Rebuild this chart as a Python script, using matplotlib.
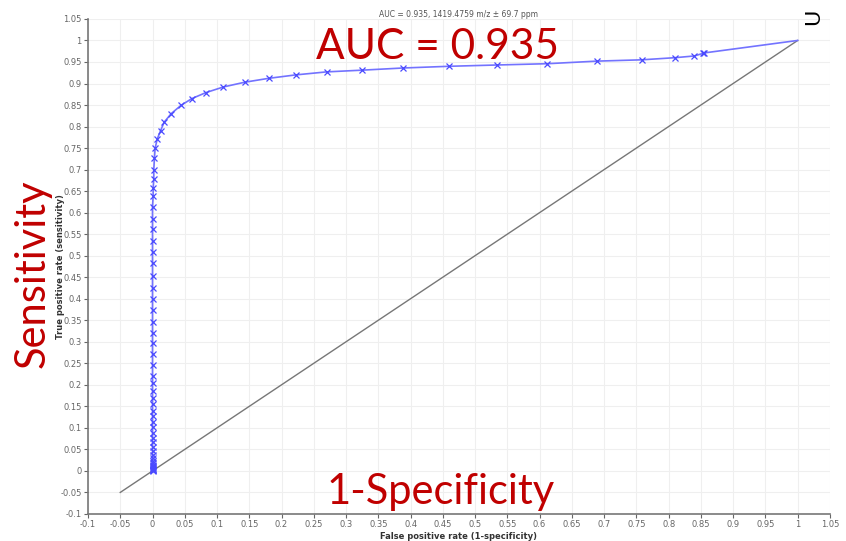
import matplotlib
matplotlib.use("Agg")
import matplotlib.pyplot as plt
import numpy as np
from matplotlib.ticker import MultipleLocator, FuncFormatter

# ROC points (false positive rate, true positive rate)
fpr = [0, 0, 0, 0, 0, 0, 0, 0, 0, 0,
       0, 0, 0, 0, 0, 0, 0, 0, 0, 0,
       0, 0, 0, 0, 0, 0, 0, 0, 0, 0,
       0, 0, 0, 0, 0, 0, 0, 0, 0, 0,
       0, 0, 0.001, 0.001, 0.002, 0.002, 0.003, 0.004,
       0.0073, 0.0124, 0.018, 0.029, 0.044, 0.061, 0.083, 0.11, 0.143, 0.18,
       0.222, 0.27, 0.325, 0.388, 0.46, 0.534, 0.612, 0.689, 0.758, 0.81,
       0.84, 0.853, 0.855, 1.0]
tpr = [0, 0.001, 0.002, 0.003, 0.004, 0.006, 0.008, 0.011, 0.014, 0.018,
       0.022, 0.029, 0.037, 0.046, 0.056, 0.066, 0.077, 0.089, 0.101, 0.114,
       0.127, 0.14, 0.155, 0.17, 0.185, 0.204, 0.221, 0.246, 0.271, 0.297,
       0.321, 0.346, 0.374, 0.400, 0.426, 0.453, 0.484, 0.508, 0.534, 0.561,
       0.586, 0.614, 0.638, 0.657, 0.677, 0.70, 0.726, 0.749,
       0.771, 0.790, 0.81, 0.83, 0.849, 0.865, 0.879, 0.892, 0.903, 0.912,
       0.920, 0.927, 0.931, 0.936, 0.940, 0.943, 0.946, 0.952, 0.955, 0.96,
       0.964, 0.970, 0.971, 1.0]
diag = [-0.05, 1.0]

title = "AUC = 0.935, 1419.4759 m/z \u00b1 69.7 ppm"
red = "#c00000"

fig = plt.figure(figsize=(8.46, 5.41), dpi=100)
ax = fig.add_axes([0.104, 0.05, 0.877, 0.915])

ax.plot(diag, diag, color="#777777", lw=1.0)
ax.plot(fpr, tpr, color="#7373ff", lw=1.2, marker="x", ms=4.5, mew=0.9,
        mec="#4a4aff", markevery=list(range(len(fpr) - 1)))

ax.set_xlim(-0.1, 1.05)
ax.set_ylim(-0.1, 1.05)
ax.xaxis.set_major_locator(MultipleLocator(0.05))
ax.yaxis.set_major_locator(MultipleLocator(0.05))
fmt = FuncFormatter(lambda v, p: "%g" % round(v, 2))
ax.xaxis.set_major_formatter(fmt)
ax.yaxis.set_major_formatter(fmt)
ax.grid(True, color="#efefef", lw=0.8)
ax.set_axisbelow(True)
for s in ["top", "right"]:
    ax.spines[s].set_visible(False)
for s in ["left", "bottom"]:
    ax.spines[s].set_color("#777777")
    ax.spines[s].set_linewidth(1.2)
ax.tick_params(labelsize=6, colors="#666666", length=3, pad=1.5)

ax.set_xlabel("False positive rate (1-specificity)", fontsize=6,
              fontweight="bold", color="#333333", labelpad=2)
ax.set_ylabel("True positive rate (sensitivity)", fontsize=6,
              fontweight="bold", color="#333333")
ax.yaxis.set_label_coords(-0.031, 0.5)
ax.set_title(title, fontsize=5.5, color="#555555", pad=1)

fig.text(0.517, 0.913, "AUC = 0.935", fontsize=30.5, color=red,
         family="Lato", ha="center", va="center")
fig.text(0.521, 0.09, "1-Specificity", fontsize=30, color=red,
         family="Lato", ha="center", va="center")
fig.text(0.038, 0.494, "Sensitivity", fontsize=30, color=red,
         family="Lato", ha="center", va="center", rotation=90)
fig.text(0.961, 0.968, "U", fontsize=16, color="black", family="Lato",
         ha="center", va="center", rotation=90)

fig.savefig("out.png", dpi=100)
